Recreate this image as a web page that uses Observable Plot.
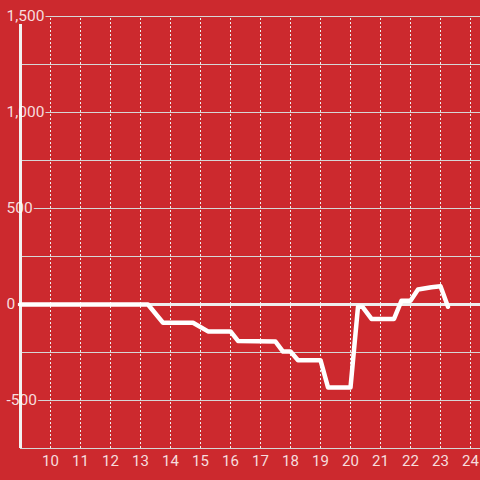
<!DOCTYPE html>
<html><head><meta charset="utf-8">
<script src="https://cdn.jsdelivr.net/npm/d3@7"></script>
<script src="https://cdn.jsdelivr.net/npm/@observablehq/plot@0.6"></script>
<style>html,body{margin:0;padding:0;background:#cc292e;overflow:hidden;}</style>
</head><body><div id="chart"></div>
<script>
const hours  = [9, 13.25, 13.75, 14.75, 15.25, 16, 16.25, 17.5, 17.75, 18, 18.25, 19, 19.25, 20, 20.25, 20.4, 20.7, 21.45, 21.7, 22, 22.25, 22.7, 23, 23.25];
const values = [0, 0, -95, -95, -140, -140, -190, -193, -245, -245, -290, -290, -432, -432, -12, -12, -75, -75, 20, 20, 78, 90, 95, -12];
const xTicks = [10, 11, 12, 13, 14, 15, 16, 17, 18, 19, 20, 21, 22, 23, 24];
const yTicks = [-500, 0, 500, 1000, 1500];
const yTickLabels = ["-500", "0", "500", "1,000", "1,500"];
const yGrid = [-750, -500, -250, 0, 250, 500, 750, 1000, 1250, 1500];

const bg = "#cc292e";
const textColor = "rgba(255,255,255,0.85)";
const data = hours.map((h, i) => ({hour: h, value: values[i]}));

const chart = Plot.plot({
  width: 480, height: 480,
  marginLeft: 20, marginRight: 0, marginTop: 16, marginBottom: 32,
  style: {background: bg, fontFamily: "Roboto, sans-serif", color: textColor},
  x: {domain: [9, 24.3333], axis: null},
  y: {domain: [-750, 1500], axis: null},
  marks: [
    Plot.ruleY(yGrid, {stroke: "#d6d6d6", strokeWidth: 1}),
    Plot.ruleX(xTicks, {y1: -750, y2: 1500, stroke: "#eeeeee", strokeWidth: 1, strokeDasharray: "2,2"}),
    Plot.text(yTicks, {y: d => d, text: (d, i) => yTickLabels[i], frameAnchor: "left", textAnchor: "start", dx: -14, fontSize: 15.5, fill: bg, stroke: bg, strokeWidth: 4}),
    Plot.ruleX([9], {y1: -750, y2: 1458, stroke: "#f2f2f2", strokeWidth: 3}),
    Plot.ruleY([0], {x1: 8.93, x2: 24.3333, stroke: "#eeeeee", strokeWidth: 3}),
    Plot.line(data, {x: "hour", y: "value", stroke: "white", strokeWidth: 4.5}),
    Plot.text(yTicks, {y: d => d, text: (d, i) => yTickLabels[i], frameAnchor: "left", textAnchor: "start", dx: -14, fontSize: 15.5, fill: textColor}),
    Plot.text(xTicks, {x: d => d, text: d => String(d), frameAnchor: "bottom", dy: 17, fontSize: 15, fill: textColor})
  ]
});
document.getElementById("chart").append(chart);
</script>
</body></html>
